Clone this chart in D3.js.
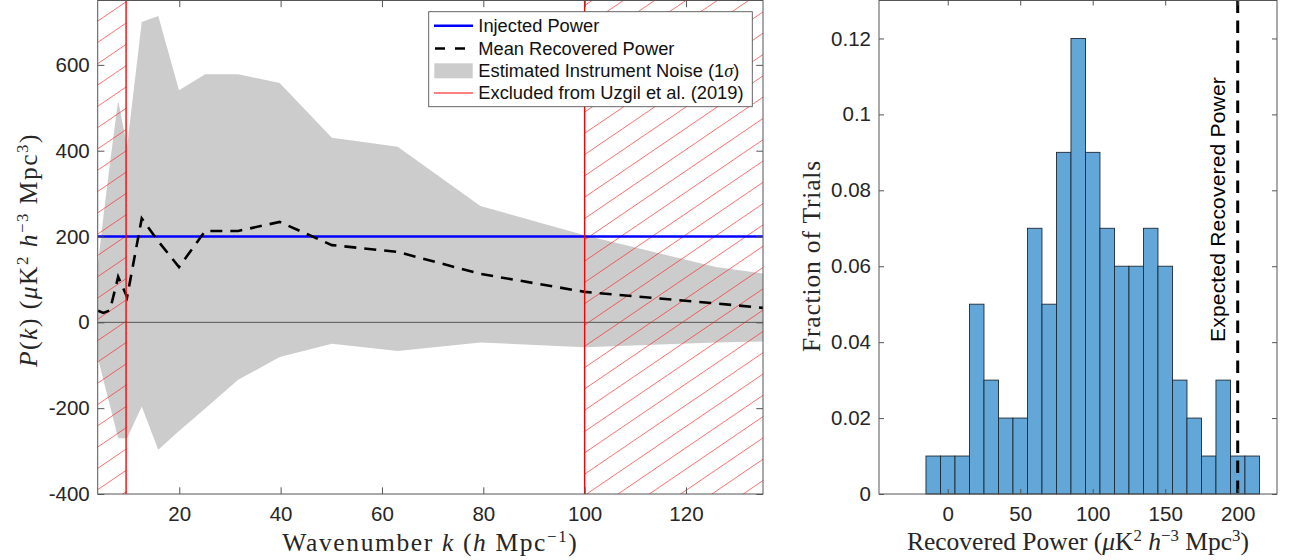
<!DOCTYPE html>
<html><head><meta charset="utf-8">
<script src="https://cdn.jsdelivr.net/npm/d3@7"></script>
<style>body{margin:0;background:#fff;} svg{display:block;}</style>
</head><body>
<svg id="chart" width="1289" height="560"></svg>
<script>
// ---------- Left panel data ----------
const kValues       = [3.98, 5.01, 6.31, 7.94, 9.7, 12.59, 15.85, 19.95, 25.12, 31.62, 39.81, 50.12, 63.10, 79.43, 100, 125.89, 158.49];
const noiseUpper    = [140, 245, 370, 517, 410, 700, 714, 541, 578, 578, 558, 430, 409, 271, 203, 129, 75];
const noiseLower    = [-85, -134, -194, -270, -270, -196, -297, -253, -201, -134, -81, -50, -67, -47, -58, -47, -39];
const meanRecovered = [27, 22, 28, 106, 59, 242, 189, 129, 213, 213, 234, 180, 164, 113, 71, 44, 8];
const injectedPower = 200;
const excludedLowK  = 9.5;
const excludedHighK = 100;
const kTicks = [20, 40, 60, 80, 100, 120];
const pTicks = [-400, -200, 0, 200, 400, 600];
const legendLabels = ["Injected Power", "Mean Recovered Power", "Estimated Instrument Noise (1σ)", "Excluded from Uzgil et al. (2019)"];

// ---------- Right panel data ----------
const binEdges  = [-15, -5, 5, 15, 25, 35, 45, 55, 65, 75, 85, 95, 105, 115, 125, 135, 145, 155, 165, 175, 185, 195, 205, 215];
const fractions = [0.01, 0.01, 0.01, 0.05, 0.03, 0.02, 0.02, 0.07, 0.05, 0.09, 0.12, 0.09, 0.07, 0.06, 0.06, 0.07, 0.06, 0.03, 0.02, 0.01, 0.03, 0.01, 0.01];
const expectedPower = 200;
const histXTicks = [0, 50, 100, 150, 200];
const histYTicks = [0, 0.02, 0.04, 0.06, 0.08, 0.1, 0.12];

const svg = d3.select("#chart");
const SANS = "'Liberation Sans', Arial, Helvetica, sans-serif";
const SERIF = "'Liberation Serif', 'Times New Roman', serif";
const AXC = "#262626";
const LABEL_SIZE = 25.5;

function richText(parent, parts, size, family) {
  const text = parent.append("text").attr("font-size", size).attr("font-family", family).attr("fill", AXC);
  let shift = 0;
  parts.forEach(p => {
    const ts = text.append("tspan").text(p.t);
    if (p.i) ts.attr("font-style", "italic");
    if (p.f) ts.attr("font-family", p.f);
    const target = p.sup ? -0.36 * size : 0;
    if (target !== shift) { ts.attr("dy", target - shift); shift = target; }
    if (p.sup) ts.attr("font-size", size * 0.66);
  });
  return text;
}
function fitLength(text, target) {
  const node = text.node();
  const len = node.getComputedTextLength();
  const n = node.getNumberOfChars();
  text.attr("letter-spacing", (target - len) / n);
}

// ================= LEFT PANEL =================
const L = {x0: 97.7, x1: 763, y0: 0.5, y1: 494};
const xk = d3.scaleLinear().domain([3.9, 135.2]).range([L.x0, L.x1]);
const yp = d3.scaleLinear().domain([-400, 750]).range([L.y1, L.y0]);

svg.append("clipPath").attr("id", "clipL").append("rect")
  .attr("x", L.x0).attr("y", L.y0).attr("width", L.x1 - L.x0).attr("height", L.y1 - L.y0);
const gL = svg.append("g").attr("clip-path", "url(#clipL)");

const band = kValues.map((k, i) => ({k, hi: noiseUpper[i], lo: noiseLower[i]}));
gL.append("path").datum(band)
  .attr("d", d3.area().x(d => xk(d.k)).y0(d => yp(d.lo)).y1(d => yp(d.hi)))
  .attr("fill", "#cccccc");

// hatching of excluded regions
function hatch(xa, xb, anchorX, anchorY) {
  const g = gL.append("g");
  const slope = 21.3 / 31.3, vstep = 21.3;
  for (let i = -60; i <= 60; i++) {
    const yA = anchorY + i * vstep - slope * (xa - anchorX);
    const yB = yA - slope * (xb - xa);
    if (Math.max(yA, yB) < L.y0 - 5 || Math.min(yA, yB) > L.y1 + 5) continue;
    g.append("line").attr("x1", xa).attr("y1", yA).attr("x2", xb).attr("y2", yB)
      .attr("stroke", "#ff2020").attr("stroke-width", 0.8).attr("opacity", 0.8);
  }
}
hatch(xk.range()[0], xk(excludedLowK), 97.7, 319.3);
hatch(xk(excludedHighK), xk.range()[1], 586.7, 494);

// zero line
gL.append("line").attr("x1", L.x0).attr("x2", L.x1).attr("y1", yp(0)).attr("y2", yp(0))
  .attr("stroke", "#555").attr("stroke-width", 1);
// injected power
gL.append("line").attr("x1", L.x0).attr("x2", L.x1).attr("y1", yp(injectedPower)).attr("y2", yp(injectedPower))
  .attr("stroke", "#0000ff").attr("stroke-width", 2.6);
// mean recovered
gL.append("path").datum(kValues.map((k, i) => ({k, v: meanRecovered[i]})))
  .attr("d", d3.line().x(d => xk(d.k)).y(d => yp(d.v)))
  .attr("fill", "none").attr("stroke", "#000").attr("stroke-width", 2.6).attr("stroke-dasharray", "12,8");
// exclusion boundaries
[excludedLowK, excludedHighK].forEach(k => {
  gL.append("line").attr("x1", xk(k)).attr("x2", xk(k)).attr("y1", L.y0).attr("y2", L.y1)
    .attr("stroke", "#ff0000").attr("stroke-width", 1.4);
});

// axes
function drawAxes(x, y, B, xt, yt, fmtY, tl) {
  const g = svg.append("g");
  g.append("g").attr("transform", `translate(0,${B.y1})`)
    .call(d3.axisBottom(x).tickValues(xt).tickSize(-tl).tickPadding(12).tickFormat(d => String(d)));
  g.append("g").attr("transform", `translate(0,${B.y0})`)
    .call(d3.axisTop(x).tickValues(xt).tickSize(-tl).tickFormat(""));
  g.append("g").attr("transform", `translate(${B.x0},0)`)
    .call(d3.axisLeft(y).tickValues(yt).tickSize(-tl).tickPadding(8).tickFormat(fmtY));
  g.append("g").attr("transform", `translate(${B.x1},0)`)
    .call(d3.axisRight(y).tickValues(yt).tickSize(-tl).tickFormat(""));
  g.selectAll(".domain").remove();
  g.selectAll(".tick line").attr("stroke", "#555").attr("stroke-width", 1);
  g.selectAll(".tick text").attr("font-family", SANS).attr("font-size", 20.5).attr("fill", AXC);
  g.append("rect").attr("x", B.x0).attr("y", B.y0).attr("width", B.x1 - B.x0).attr("height", B.y1 - B.y0)
    .attr("fill", "none").attr("stroke", "#555").attr("stroke-width", 1);
}
drawAxes(xk, yp, L, kTicks, pTicks, d => String(d), 6.7);

// legend
const lg = svg.append("g");
lg.append("rect").attr("x", 428.7).attr("y", 11.7).attr("width", 323.6).attr("height", 95)
  .attr("fill", "#fff").attr("stroke", "#555").attr("stroke-width", 0.9);
const rowY = [25.7, 48.5, 71, 93];
lg.append("line").attr("x1", 434).attr("x2", 473).attr("y1", rowY[0]).attr("y2", rowY[0]).attr("stroke", "#0000ff").attr("stroke-width", 2.6);
lg.append("line").attr("x1", 435).attr("x2", 473).attr("y1", rowY[1]).attr("y2", rowY[1]).attr("stroke", "#000").attr("stroke-width", 2.6).attr("stroke-dasharray", "10,10");
lg.append("rect").attr("x", 434.3).attr("y", rowY[2] - 7.7).attr("width", 38.4).attr("height", 15).attr("fill", "#cccccc");
lg.append("line").attr("x1", 434).attr("x2", 473).attr("y1", rowY[3]).attr("y2", rowY[3]).attr("stroke", "#ff0000").attr("stroke-width", 1);
legendLabels.forEach((t, i) => {
  let txt;
  if (t.includes("σ")) {
    const m = t.split("σ");
    txt = richText(lg, [{t: m[0]}, {t: "σ", i: true, f: SERIF}, {t: m[1]}], 18.3, SANS);
  } else {
    txt = lg.append("text").text(t).attr("font-family", SANS).attr("font-size", 18.3);
  }
  txt.attr("x", 478.3).attr("y", rowY[i] + 6.4).attr("fill", "#111");
});

// axis labels
const xlabL = richText(svg, [{t: "Wavenumber "}, {t: "k", i: true}, {t: " ("}, {t: "h", i: true}, {t: " Mpc"}, {t: "−1", sup: true}, {t: ")"}], LABEL_SIZE, SERIF)
  .attr("x", (L.x0 + L.x1) / 2).attr("y", 551).attr("text-anchor", "middle");
fitLength(xlabL, 296);
const ylabL = richText(svg, [{t: "P", i: true}, {t: "("}, {t: "k", i: true}, {t: ")  ("}, {t: "μ", i: true}, {t: "K"}, {t: "2", sup: true}, {t: " "}, {t: "h", i: true}, {t: "−3", sup: true}, {t: " Mpc"}, {t: "3", sup: true}, {t: ")"}], LABEL_SIZE, SERIF)
  .attr("text-anchor", "middle").attr("transform", "translate(37,250) rotate(-90)");
fitLength(ylabL, 234);

// ================= RIGHT PANEL =================
const R = {x0: 879, x1: 1277, y0: 0.5, y1: 494};
const xh = d3.scaleLinear().domain([-47.4, 227.1]).range([R.x0, R.x1]);
const yh = d3.scaleLinear().domain([0, 0.13]).range([R.y1, R.y0]);

const bins = fractions.map((f, i) => ({x0: binEdges[i], x1: binEdges[i + 1], f}));
svg.append("g").selectAll("rect").data(bins).join("rect")
  .attr("x", d => xh(d.x0)).attr("y", d => yh(d.f))
  .attr("width", d => xh(d.x1) - xh(d.x0)).attr("height", d => yh(0) - yh(d.f))
  .attr("fill", "rgb(98,167,215)").attr("stroke", "#1e2a36").attr("stroke-width", 0.9);

svg.append("line").attr("x1", xh(expectedPower)).attr("x2", xh(expectedPower)).attr("y1", R.y0).attr("y2", R.y1)
  .attr("stroke", "#000").attr("stroke-width", 3).attr("stroke-dasharray", "12.5,7.5");

const exp = svg.append("text").text("Expected Recovered Power")
  .attr("font-family", SANS).attr("font-size", 21).attr("fill", "#000")
  .attr("transform", `translate(1225,342) rotate(-90)`);
fitLength(exp, 265);

drawAxes(xh, yh, R, histXTicks, histYTicks, d => d3.format("~g")(d), 5);

const xlabR = richText(svg, [{t: "Recovered Power ("}, {t: "μ", i: true}, {t: "K"}, {t: "2", sup: true}, {t: " "}, {t: "h", i: true}, {t: "−3", sup: true}, {t: " Mpc"}, {t: "3", sup: true}, {t: ")"}], LABEL_SIZE, SERIF)
  .attr("x", (R.x0 + R.x1) / 2).attr("y", 550).attr("text-anchor", "middle");
fitLength(xlabR, 342);
const ylabR = richText(svg, [{t: "Fraction of Trials"}], LABEL_SIZE, SERIF)
  .attr("text-anchor", "middle").attr("transform", "translate(820,256) rotate(-90)");
fitLength(ylabR, 192);
</script>
</body></html>
